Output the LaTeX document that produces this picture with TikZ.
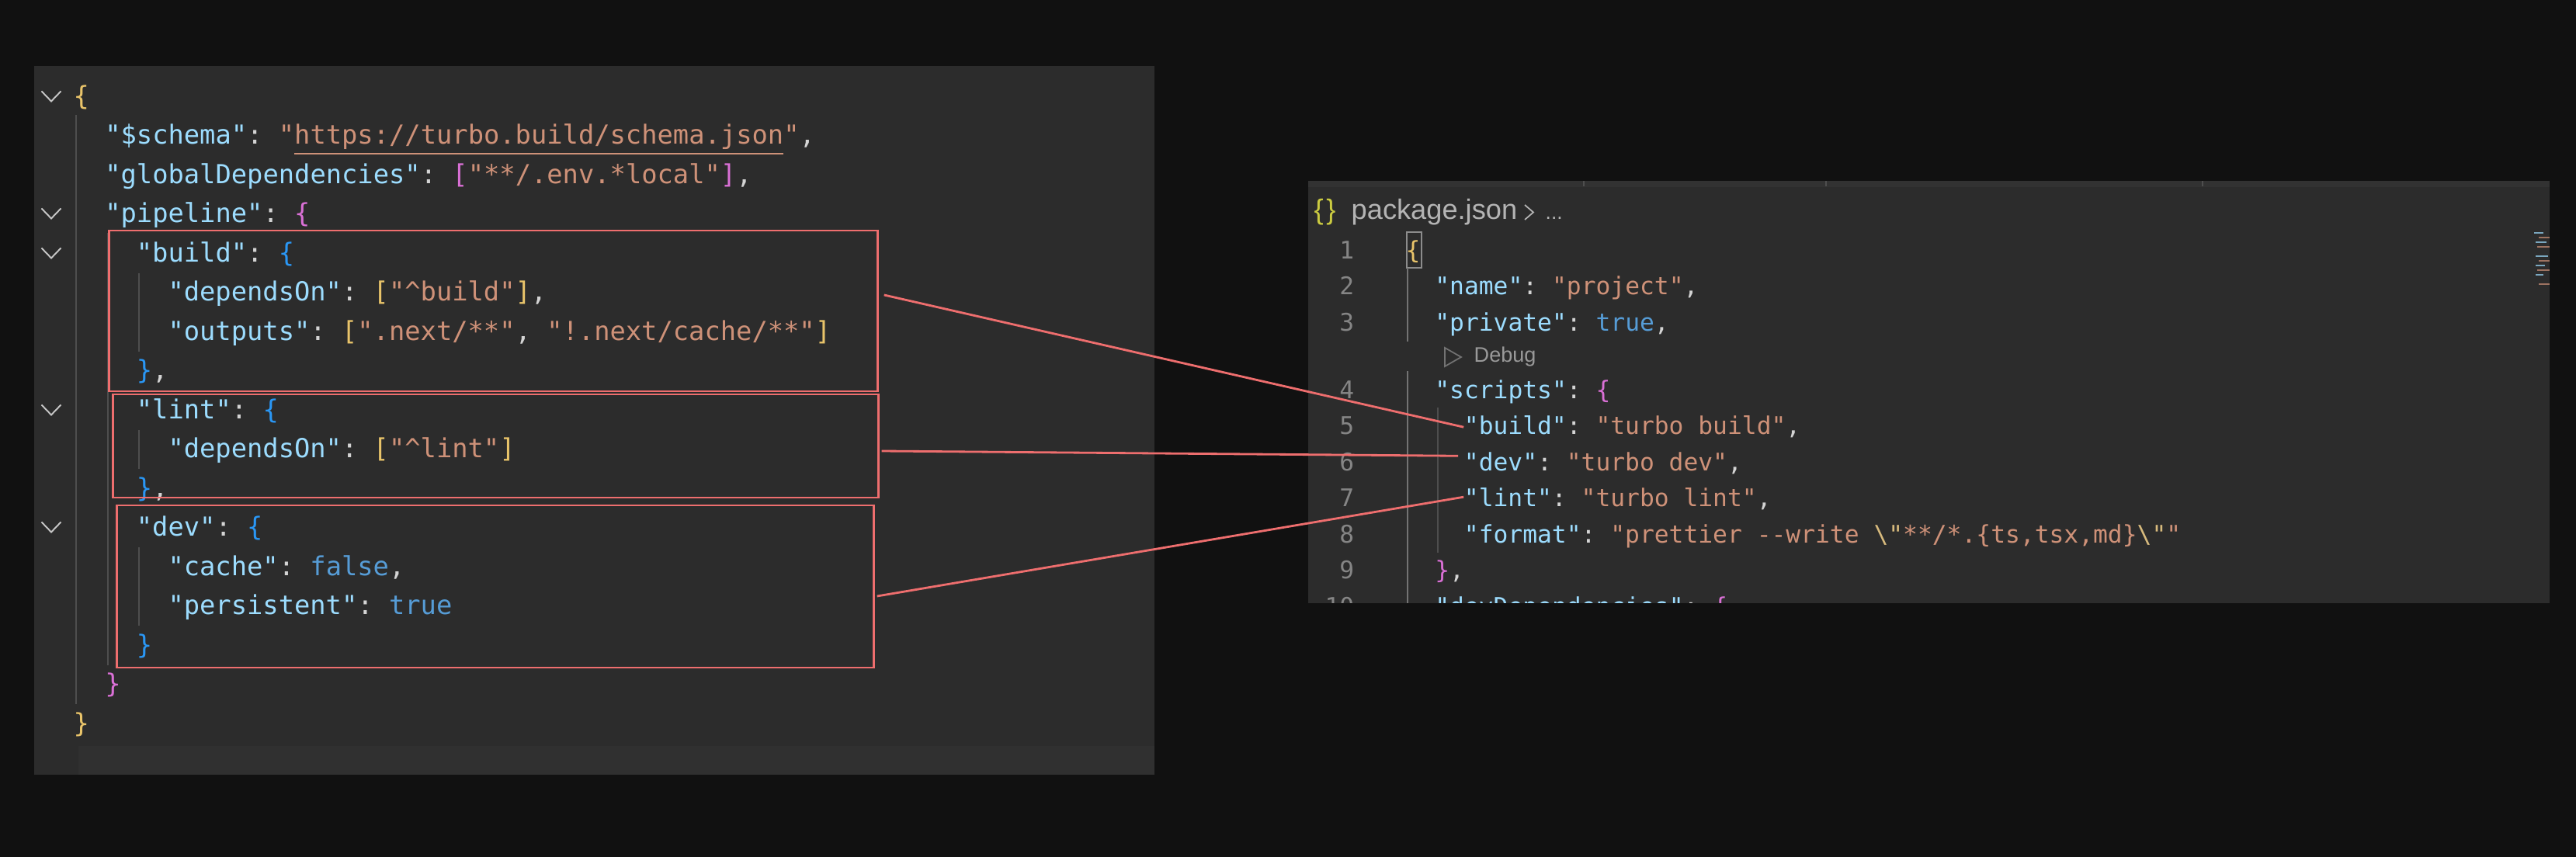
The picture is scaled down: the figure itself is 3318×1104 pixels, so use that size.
\documentclass[tikz,border=0pt]{standalone}
\usepackage{fontspec}
\setmonofont{DejaVu Sans Mono}
\setsansfont{Liberation Sans}
\definecolor{bgdark}{HTML}{111111}
\definecolor{panelbg}{HTML}{2C2C2C}
\definecolor{curline}{HTML}{303030}
\definecolor{tabstrip}{HTML}{323232}
\definecolor{jkey}{HTML}{9CDCFE}
\definecolor{jstr}{HTML}{CE9178}
\definecolor{jbool}{HTML}{569CD6}
\definecolor{jpunc}{HTML}{D4D4D4}
\definecolor{jesc}{HTML}{D7BA7D}
\definecolor{brgold}{HTML}{E9C46A}
\definecolor{brmag}{HTML}{DA70D6}
\definecolor{brblue}{HTML}{2A97F5}
\definecolor{lnumgray}{HTML}{858585}
\definecolor{guidegray}{HTML}{4E4E4E}
\definecolor{markred}{HTML}{EE6E6E}
\definecolor{crumbgray}{HTML}{B4B4B4}
\definecolor{jsonicon}{HTML}{CBCB41}
\newcommand{\jkey}[1]{\textcolor{jkey}{"#1"}}
\newcommand{\jstr}[1]{\textcolor{jstr}{"#1"}}
\tikzset{
codeL/.style={anchor=base west, inner sep=0pt, text=jpunc, font=\ttfamily\fontsize{9.6}{11.5}\selectfont}, % turbo.json lines
codeR/.style={codeL, font=\ttfamily\fontsize{8.9}{10.5}\selectfont}, % package.json lines
lnum/.style={anchor=base east, inner sep=0pt, text=lnumgray, font=\ttfamily\fontsize{8.9}{10.5}\selectfont},
crumb/.style={anchor=base west, inner sep=0pt, text=crumbgray, font=\sffamily\fontsize{10.3}{12}\selectfont},
guide/.style={draw=guidegray, line width=0.45pt},
redbox/.style={draw=markred, line width=0.8pt, inner sep=0pt},
redline/.style={draw=markred, line width=0.8pt},
chevline/.style={draw=black!22!white, line width=0.55pt},
chev/.pic={\draw[chevline] (-12.5,-6.5) -- (0,6.5) -- (12.5,-6.5);},
}
\begin{document}
\begin{tikzpicture}[x=0.01cm, y=-0.01cm]
\useasboundingbox (0,0) rectangle (3318,1104);
\fill[bgdark] (0,0) rectangle (3318,1104);

% turbo.json
\fill[panelbg] (44,85) rectangle (1487,998);
\fill[curline] (101,961) rectangle (1487,998);
\draw[guide] (98,148) -- (98,907);
\draw[guide] (139,300) -- (139,857);
\draw[guide] (179,352) -- (179,453);
\draw[guide] (179,554) -- (179,604);
\draw[guide] (179,705) -- (179,806);
\pic at (66,124) {chev};
\pic at (66,275) {chev};
\pic at (66,326) {chev};
\pic at (66,528) {chev};
\pic at (66,679) {chev};

\node[codeL] (lopen) at (94,135.5) {\textcolor{brgold}{\{}};
\node[codeL] (lschema) at (134.6,186) {\jkey{\$schema}: \textcolor{jstr}{"\underline{https://turbo.build/schema.json}"},};
\node[codeL] (lglobal) at (134.6,236.5) {\jkey{globalDependencies}: \textcolor{brmag}{[}\jstr{**/.env.*local}\textcolor{brmag}{]},};
\node[codeL] (lpipe) at (134.6,287) {\jkey{pipeline}: \textcolor{brmag}{\{}};
\node[codeL] (lbuild) at (175.2,337.5) {\jkey{build}: \textcolor{brblue}{\{}};
\node[codeL] (lbuilddeps) at (215.8,388) {\jkey{dependsOn}: \textcolor{brgold}{[}\jstr{\textasciicircum build}\textcolor{brgold}{]},};
\node[codeL] (lbuildout) at (215.8,438.5) {\jkey{outputs}: \textcolor{brgold}{[}\jstr{.next/**}, \jstr{!.next/cache/**}\textcolor{brgold}{]}};
\node[codeL] (lbuildend) at (175.2,489) {\textcolor{brblue}{\}},};
\node[codeL] (llint) at (175.2,539.5) {\jkey{lint}: \textcolor{brblue}{\{}};
\node[codeL] (llintdeps) at (215.8,590) {\jkey{dependsOn}: \textcolor{brgold}{[}\jstr{\textasciicircum lint}\textcolor{brgold}{]}};
\node[codeL] (llintend) at (175.2,640.5) {\textcolor{brblue}{\}},};
\node[codeL] (ldev) at (175.2,691) {\jkey{dev}: \textcolor{brblue}{\{}};
\node[codeL] (ldevcache) at (215.8,741.5) {\jkey{cache}: \textcolor{jbool}{false},};
\node[codeL] (ldevpers) at (215.8,792) {\jkey{persistent}: \textcolor{jbool}{true}};
\node[codeL] (ldevend) at (175.2,842.5) {\textcolor{brblue}{\}}};
\node[codeL] (lpipeend) at (134.6,893) {\textcolor{brmag}{\}}};
\node[codeL] (lclose) at (94,943.5) {\textcolor{brgold}{\}}};

\node[redbox, minimum width=9.89cm, minimum height=2.07cm] (buildbox) at (635.5,400.5) {};
\node[redbox, minimum width=9.85cm, minimum height=1.33cm] (lintbox) at (638.5,574.5) {};
\node[redbox, minimum width=9.74cm, minimum height=2.09cm] (devbox) at (638,755.5) {};

% package.json
\begin{scope}
\clip (1685,233) rectangle (3284,777);
\fill[panelbg] (1685,233) rectangle (3284,777);
\fill[tabstrip] (1685,233) rectangle (3284,241);
\draw[guidegray] (2040,233) -- (2040,240) (2352,233) -- (2352,240) (2837,233) -- (2837,240);

\node[crumb, text=jsonicon] (jsonicon) at (1692,283) {\{\kern1pt\}};
\node[crumb] (crumbfile) at (1740,283) {package.json};
\draw[crumbgray, line width=0.5pt] (1964,264) -- (1975,273.5) -- (1964,283);
\node[crumb, font=\sffamily\fontsize{7.5}{9}\selectfont] (crumbdots) at (1990,283) {...};

\draw[black!45!white, line width=0.4pt] (1812,299) rectangle (1831,345);
\draw[guide, draw=black!55!white] (1813,345) -- (1813,440);
\draw[guide, draw=black!55!white] (1813,478) -- (1813,777);
\draw[guide] (1852,525) -- (1852,712);

\node[lnum] at (1745,333.5) {1};
\node[lnum] at (1745,380) {2};
\node[lnum] at (1745,426.5) {3};
\node[lnum] at (1745,513.5) {4};
\node[lnum] at (1745,560) {5};
\node[lnum] at (1745,606.5) {6};
\node[lnum] at (1745,653) {7};
\node[lnum] at (1745,699.5) {8};
\node[lnum] at (1745,746) {9};
\node[lnum] at (1745,792.5) {10};

\node[codeR] (ropen) at (1810,333.5) {\textcolor{brgold}{\{}};
\node[codeR] (rname) at (1847.6,380) {\jkey{name}: \jstr{project},};
\node[codeR] (rprivate) at (1847.6,426.5) {\jkey{private}: \textcolor{jbool}{true},};
\draw[black!55!white, line width=0.5pt] (1861,448) -- (1882,460) -- (1861,472) -- cycle;
\node[anchor=base west, inner sep=0pt, text=black!40!white, font=\sffamily\fontsize{7.7}{9}\selectfont] (debuglens) at (1898,466.5) {Debug};
\node[codeR] (rscripts) at (1847.6,513.5) {\jkey{scripts}: \textcolor{brmag}{\{}};
\node[codeR] (rbuild) at (1885.2,560) {\jkey{build}: \jstr{turbo build},};
\node[codeR] (rdev) at (1885.2,606.5) {\jkey{dev}: \jstr{turbo dev},};
\node[codeR] (rlint) at (1885.2,653) {\jkey{lint}: \jstr{turbo lint},};
\node[codeR] (rformat) at (1885.2,699.5) {\jkey{format}: \textcolor{jstr}{"prettier -{}-write \textcolor{jesc}{\textbackslash"}**/*.\{ts,tsx,md\}\textcolor{jesc}{\textbackslash"}"}};
\node[codeR] (rscriptsend) at (1847.6,746) {\textcolor{brmag}{\}},};
\node[codeR] (rdevdeps) at (1847.6,792.5) {\jkey{devDependencies}: \textcolor{brmag}{\{}};

% minimap
\draw[jkey!70!panelbg, line width=0.5pt] (3264,300) -- (3276,300) (3266,312) -- (3280,312) (3266,330) -- (3282,330) (3266,342) -- (3278,342) (3266,354) -- (3276,354);
\draw[jstr!70!panelbg, line width=0.5pt] (3270,306) -- (3284,306) (3268,318) -- (3284,318) (3270,336) -- (3284,336) (3268,348) -- (3284,348) (3270,366) -- (3284,366);
\end{scope}

% task -> script links
\draw[redline] ([xshift=0.07cm,yshift=0.205cm]buildbox.east) -- (rbuild.west);
\draw[redline] ([xshift=0.03cm,yshift=-0.065cm]lintbox.east) -- ([xshift=-0.07cm,yshift=0.095cm]rdev.west);
\draw[redline] ([xshift=0.03cm,yshift=-0.125cm]devbox.east) -- ([yshift=0.03cm]rlint.west);
\end{tikzpicture}
\end{document}
